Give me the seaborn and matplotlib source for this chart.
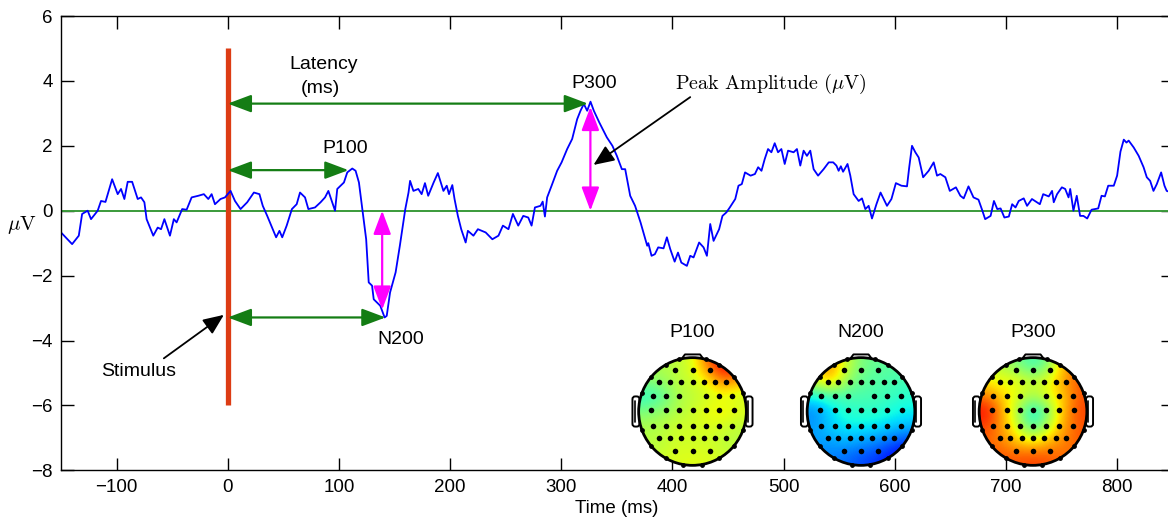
import numpy as np
import pandas as pd
import matplotlib
matplotlib.use("Agg")
import matplotlib.pyplot as plt
import seaborn as sns
from matplotlib.patches import Circle, FancyBboxPatch

# ---------------- data ----------------
time_ms = [-150, -140, -134, -131, -126, -123, -117, -114, -110, -104, -99, -96, -93, -90, -86,
           -81, -78, -75, -73, -67, -63, -60, -57, -52, -48.5, -46, -41, -37, -32.5, -26.5,
           -21.5, -17.5, -14.5, -11.5, -6.5, -2.5, 2.5, 6.5, 11.5, 17.5, 23.5, 28.5, 31.5, 35.5,
           40.5, 43.5, 46.5, 49, 53, 57.7, 62, 65, 69.5, 72.5, 78.5, 83.5, 87.5, 90.5, 93.5,
           96.5, 98.5, 101.5, 104.5, 107.5, 112, 115, 118, 121, 124.5, 126.8, 129.8, 131.3,
           134.2, 137.2, 141.1, 143, 146, 151, 154.8, 159.7, 162.6, 164, 167, 171.4, 174.4,
           177.4, 180.3, 185.2, 189, 194, 197, 199, 202, 204, 207, 210, 214, 216, 221, 225,
           232, 238, 243.5, 247.5, 252.5, 256.5, 261.3, 265.8, 270.3, 273.3, 276.3, 281.3,
           283.3, 285.3, 287.3, 291.3, 296.3, 300.3, 305.3, 309.8, 314.3, 317.3, 320.3, 323.3,
           326.3, 329.3, 334.2, 337.2, 341, 346, 350, 354.5, 357.5, 362, 366.4, 371.3, 374.3,
           377.3, 378.3, 381.2, 384.2, 387.2, 392, 395, 398, 402, 405, 408, 413, 416, 419,
           424, 428, 431, 434, 437, 442, 445, 448.6, 451.6, 456.5, 459.4, 462.4, 465.3, 470.3,
           474.2, 477.1, 480.1, 483, 486, 489, 492, 495, 498, 501, 504, 509, 512, 515, 518,
           521, 524, 527, 531, 536, 540.6, 544.6, 547.5, 549.5, 551.5, 553.5, 557.5, 560, 563,
           567.5, 570.5, 573.5, 576.5, 579.5, 583.5, 587.2, 593, 597, 601, 606, 611, 613,
           615.5, 618.5, 621.5, 625.5, 630.5, 635, 638, 641, 645.5, 649.5, 655, 659, 662,
           666.3, 670.8, 675.3, 678.3, 681.3, 686.2, 689.2, 692.2, 695.2, 698.6, 702.6, 705.6,
           708.6, 711.5, 716, 719, 723.4, 730.5, 733.5, 738.5, 741.5, 743, 746, 750.3, 753.3,
           756.3, 757.8, 760.7, 763.7, 766.7, 769.7, 773.1, 777, 783, 786, 789, 792, 797, 800,
           803, 806, 808.4, 810.4, 814.9, 819.4, 823.8, 826.7, 829.7, 832.7, 835.7, 839.6,
           842.6, 844.6, 850]
amp_uv = [-0.67, -1.03, -0.77, -0.10, 0.00, -0.26, 0.00, 0.30, 0.27, 0.97, 0.51, 0.67, 0.36,
          0.89, 0.89, 0.36, 0.41, 0.26, -0.26, -0.77, -0.52, -0.57, -0.26, -0.77, -0.26, -0.36,
          0.05, 0.03, 0.41, 0.46, 0.51, 0.36, 0.51, 0.20, 0.36, 0.41, 0.61, 0.30, 0.05, 0.26,
          0.56, 0.51, 0.15, -0.16, -0.57, -0.82, -0.62, -0.82, -0.46, 0.05, 0.20, 0.56, 0.41,
          0.05, 0.10, 0.26, 0.41, 0.61, 0.30, 0.00, 0.67, 0.77, 0.87, 1.18, 1.30, 1.23, 0.87,
          0.05, -0.88, -2.21, -2.31, -2.73, -2.83, -2.93, -3.29, -3.24, -2.52, -1.90, -1.08,
          0.05, 0.56, 0.92, 0.61, 0.67, 0.51, 0.85, 0.46, 0.87, 1.16, 0.61, 0.77, 0.51, 0.79,
          0.36, -0.16, -0.57, -0.98, -0.62, -0.77, -0.57, -0.67, -0.88, -0.77, -0.46, -0.57,
          -0.10, -0.46, -0.16, -0.21, -0.46, 0.10, 0.15, 0.28, -0.18, 0.41, 0.77, 1.23, 1.49,
          1.90, 2.21, 2.82, 3.08, 3.29, 3.08, 3.36, 3.08, 2.72, 2.52, 2.26, 2.00, 1.69, 1.28,
          1.28, 0.46, 0.15, -0.36, -0.72, -1.08, -1.00, -1.39, -1.34, -1.13, -1.16, -0.82,
          -1.18, -1.57, -1.29, -1.60, -1.70, -1.39, -1.44, -0.98, -1.13, -1.39, -0.41, -0.93,
          -0.57, -0.16, -0.05, 0.10, 0.36, 0.77, 0.82, 1.18, 1.08, 1.13, 1.34, 1.23, 1.59,
          1.90, 1.80, 2.08, 1.80, 1.90, 1.44, 1.85, 1.80, 1.90, 1.39, 1.85, 1.69, 1.85, 1.28,
          1.08, 1.28, 1.49, 1.49, 1.39, 1.23, 1.37, 1.20, 1.44, 1.08, 0.51, 0.30, 0.38, 0.05,
          0.15, -0.24, 0.20, 0.56, 0.15, 0.36, 0.85, 0.77, 0.75, 1.34, 2.00, 1.80, 1.64, 1.03,
          1.23, 1.49, 1.08, 1.13, 1.03, 0.61, 0.72, 0.46, 0.38, 0.75, 0.41, 0.34, 0.05, -0.26,
          -0.16, 0.30, 0.05, 0.07, -0.21, -0.18, 0.20, 0.10, 0.30, 0.38, 0.15, 0.36, 0.20,
          0.51, 0.44, 0.61, 0.26, 0.51, 0.72, 0.67, 0.41, 0.67, 0.00, 0.46, -0.16, -0.16,
          -0.24, 0.03, 0.07, 0.46, 0.44, 0.77, 0.77, 1.08, 1.82, 2.19, 2.10, 2.16, 1.95, 1.69,
          1.34, 1.03, 0.92, 0.61, 0.82, 1.18, 0.77, 0.61, 0.55]

x_ticks = [-100, 0, 100, 200, 300, 400, 500, 600, 700, 800]
y_ticks = [-8, -6, -4, -2, 0, 2, 4, 6]

topo_titles = ["P100", "N200", "P300"]
# colour-scale values (0..1 on jet), rows from front (top) to back (bottom)
topo_p100 = [[0.56, 0.56, 0.58, 0.62, 0.80, 0.93, 0.90],
             [0.52, 0.54, 0.58, 0.60, 0.66, 0.80, 0.72],
             [0.40, 0.45, 0.56, 0.58, 0.60, 0.62, 0.60],
             [0.50, 0.53, 0.56, 0.60, 0.64, 0.66, 0.62],
             [0.56, 0.57, 0.61, 0.60, 0.62, 0.60, 0.58],
             [0.57, 0.58, 0.60, 0.60, 0.60, 0.58, 0.57],
             [0.58, 0.60, 0.62, 0.62, 0.62, 0.60, 0.58]]
topo_n200 = [[0.66, 0.78, 0.60, 0.50, 0.47, 0.46, 0.45],
             [0.62, 0.72, 0.55, 0.47, 0.45, 0.44, 0.43],
             [0.38, 0.43, 0.44, 0.44, 0.44, 0.42, 0.40],
             [0.26, 0.33, 0.40, 0.41, 0.40, 0.38, 0.36],
             [0.28, 0.33, 0.36, 0.36, 0.35, 0.33, 0.31],
             [0.28, 0.28, 0.30, 0.28, 0.26, 0.22, 0.18],
             [0.26, 0.25, 0.23, 0.20, 0.18, 0.13, 0.11]]
topo_p300 = [[0.60, 0.56, 0.50, 0.42, 0.50, 0.72, 0.80],
             [0.64, 0.63, 0.63, 0.58, 0.63, 0.74, 0.82],
             [0.78, 0.68, 0.63, 0.56, 0.63, 0.70, 0.82],
             [0.90, 0.74, 0.55, 0.36, 0.50, 0.72, 0.84],
             [0.84, 0.74, 0.60, 0.42, 0.58, 0.74, 0.82],
             [0.80, 0.77, 0.70, 0.66, 0.72, 0.77, 0.82],
             [0.82, 0.82, 0.82, 0.84, 0.82, 0.80, 0.78]]

# electrode layout (head radius = 1), rows front to back
electrode_row_y = [0.78, 0.54, 0.28, 0.02, -0.26, -0.50, -0.74]
electrode_row_x = [[-0.32, 0, 0.32],
                   [-0.62, -0.42, -0.21, 0, 0.21, 0.42, 0.62],
                   [-0.74, -0.49, -0.25, 0.25, 0.49, 0.74],
                   [-0.77, -0.49, -0.25, 0, 0.25, 0.49, 0.77],
                   [-0.74, -0.49, -0.25, 0, 0.25, 0.49, 0.74],
                   [-0.62, -0.42, -0.21, 0, 0.21, 0.42, 0.62],
                   [-0.32, 0, 0.32]]

# ---------------- style ----------------
sns.set_style("ticks")
plt.rcParams["font.family"] = ["Liberation Sans", "DejaVu Sans"]
plt.rcParams["mathtext.fontset"] = "cm"
for k in ("text.color", "axes.labelcolor", "xtick.color", "ytick.color", "axes.edgecolor"):
    plt.rcParams[k] = "black"

W, H = 1168, 527
fig = plt.figure(figsize=(W / 100, H / 100), dpi=100)
ax = fig.add_axes([61 / W, (H - 470.3) / H, (1172.7 - 61) / W, 454.3 / H])

df = pd.DataFrame({"Time (ms)": time_ms, "amp": amp_uv})
ax.axhline(0, color="#3a9a3a", lw=1.4, zorder=1)
ax.plot([0, 0], [-6, 5], color="#dd3c14", lw=3.8, solid_capstyle="butt", zorder=1.5)
sns.lineplot(data=df, x="Time (ms)", y="amp", ax=ax, color="#0000ff", lw=1.3,
             estimator=None, sort=False, zorder=2)

ax.set_xlim(-150, 850)
ax.set_ylim(-8, 6)
ax.set_xticks(x_ticks)
ax.set_yticks(y_ticks)
ax.tick_params(direction="in", length=9, width=1, top=True, right=True,
               labelsize=13.5, pad=6, colors="black")
for s in ax.spines.values():
    s.set_visible(True)
    s.set_linewidth(1.0)
    s.set_color("black")
ax.set_xlabel("Time (ms)", fontsize=13.5, labelpad=3, color="black")
ax.set_ylabel(r"$\mu\mathrm{V}$", fontsize=15, rotation=0, color="black")
ax.yaxis.set_label_coords(-0.035, 0.515)


def arrow(x0, y0, x1, y1, color, style="<|-|>", lw=1.6, hl=0.72, hw=0.27, ms=20):
    ax.annotate("", xy=(x1, y1), xytext=(x0, y0),
                arrowprops=dict(arrowstyle=f"{style},head_length={hl},head_width={hw}",
                                color=color, lw=lw, shrinkA=0, shrinkB=0,
                                mutation_scale=ms), zorder=4)


green = "#147d14"
arrow(0, 3.3, 324, 3.3, green)
arrow(0, 1.25, 108.6, 1.25, green)
arrow(0, -3.29, 141.9, -3.29, green)
arrow(138.9, 0, 138.9, -3.05, "#ff00ff")
arrow(326.2, 3.2, 326.2, 0, "#ff00ff")
arrow(-57.5, -4.55, -3.5, -3.21, "black", style="-|>", lw=1.3, hl=0.7, hw=0.3, ms=18)
arrow(416, 3.5, 329, 1.41, "black", style="-|>", lw=1.3, hl=0.7, hw=0.3, ms=18)

tk = dict(ha="center", va="center", fontsize=14, color="black")
ax.text(86.4, 4.49, "Latency", **tk)
ax.text(83.4, 3.77, "(ms)", **tk)
ax.text(105.9, 1.92, "P100", **tk)
ax.text(330, 3.93, "P300", **tk)
ax.text(156, -3.96, "N200", **tk)
ax.text(-80, -4.96, "Stimulus", **tk)
ax.text(488, 3.9, r"$\mathrm{Peak\ Amplitude\ (}\mu\mathrm{V)}$", ha="center", va="center",
        fontsize=14.5, color="black")

# ---------------- topographic maps ----------------
centers_px = [692.5, 861, 1033]
cy_px = 411.5
half = 70
ex = [x for row in electrode_row_x for x in row]
ey = [y for y, row in zip(electrode_row_y, electrode_row_x) for _ in row]
perim_ang = np.deg2rad([60, 75, 105, 120, 140, 160, 200, 220, 240, 260, 280, 300, 320, 340, 20, 40])

for title, grid, cx in zip(topo_titles, [topo_p100, topo_n200, topo_p300], centers_px):
    iax = fig.add_axes([(cx - half) / W, (H - cy_px - half) / H, 2 * half / W, 2 * half / H])
    iax.set_xlim(-1.3, 1.3)
    iax.set_ylim(-1.3, 1.3)
    iax.set_aspect("equal")
    iax.axis("off")
    # ears
    for sgn in (-1, 1):
        x0 = -1.115 if sgn < 0 else 0.985
        iax.add_patch(FancyBboxPatch((x0, -0.28), 0.13, 0.56,
                                     boxstyle="round,pad=0,rounding_size=0.05",
                                     fc="white", ec="black", lw=1.4, zorder=1))
        xi = -1.07 if sgn < 0 else 1.03
        iax.plot([xi, xi], [-0.2, 0.2], color="black", lw=1.2, zorder=1)
    # nose
    iax.plot([-0.2, -0.14, 0.14, 0.2], [0.98, 1.06, 1.06, 0.98], color="black", lw=1.4, zorder=3)
    im = iax.imshow(np.array(grid), cmap="jet", vmin=0, vmax=1, extent=(-1, 1, -1, 1),
                    interpolation="bicubic", origin="upper", zorder=2)
    im.set_clip_path(Circle((0, 0), 1.0, transform=iax.transData))
    iax.add_patch(Circle((0, 0), 1.0, fill=False, ec="black", lw=2.0, zorder=3))
    iax.scatter(np.cos(perim_ang), np.sin(perim_ang), s=6, color="black", zorder=3)
    iax.scatter(ex, ey, s=16, color="black", zorder=4, linewidths=0)
    iax.text(0, 1.47, title, ha="center", va="center", fontsize=14, color="black")

fig.savefig("out.png", dpi=100)
